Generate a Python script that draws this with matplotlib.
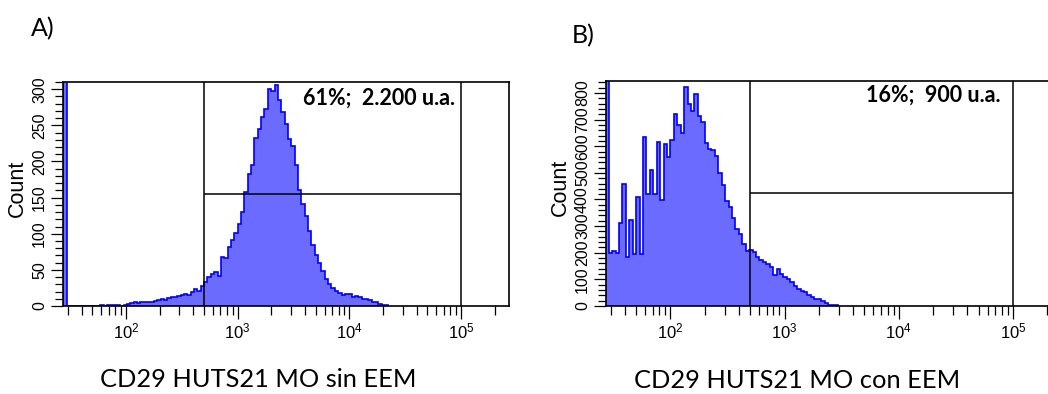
import numpy as np
import matplotlib
matplotlib.use('Agg')
import matplotlib.pyplot as plt
from matplotlib.ticker import FixedLocator, LogLocator, NullFormatter, FuncFormatter, MultipleLocator

plt.rcParams['mathtext.fontset'] = 'custom'
plt.rcParams['mathtext.rm'] = 'Liberation Sans'
plt.rcParams['mathtext.it'] = 'Liberation Sans'
plt.rcParams['font.family'] = ['Liberation Sans', 'DejaVu Sans']

# ---------------- data ----------------
bin_width_decades = 0.03
x_min, x_max = 27.3, 2.69e5

a_first_bin_log10 = 1.44
a_counts = [2000, 0, 0, 0, 0, 0, 0, 0, 0, 0, 0,
            1, 0, 1, 2, 1, 2, 0, 1, 3, 4,
            5, 4, 5, 6, 5, 6, 7, 8, 9, 8,
            11, 12, 12, 14, 15, 16, 15, 20, 24, 21,
            28, 33, 40, 44, 47, 42, 68, 66, 82, 92,
            101, 113, 130, 158, 182, 195, 232, 245, 262, 272,
            301, 298, 306, 285, 268, 252, 231, 222, 195, 160,
            141, 124, 104, 85, 70, 60, 48, 37, 31, 25,
            21, 18, 15, 17, 16, 13, 14, 12, 9, 9,
            8, 6, 5, 3, 2, 1]
a_ymax = 310
a_gate_lo, a_gate_hi, a_gate_count = 500, 1e5, 155
a_yticks_major, a_yticks_minor = 50, 10
a_label = "61%;  2.200 u.a."
a_title = "CD29 HUTS21 MO sin EEM"

b_first_bin_log10 = 1.43
b_counts = [5000, 200, 205, 198, 310, 459, 184, 322, 197, 409, 197,
            634, 422, 509, 422, 615, 397, 609, 559, 622, 722,
            678, 650, 821, 760, 734, 796, 715, 690, 612, 590,
            585, 565, 500, 455, 395, 370, 330, 290, 272, 232,
            205, 209, 203, 184, 172, 165, 157, 147, 118, 138,
            120, 110, 102, 89, 76, 64, 58, 51, 42, 32,
            28, 25, 19, 10, 4, 3, 2]
b_ymax = 845
b_gate_lo, b_gate_hi, b_gate_count = 500, 1e5, 425
b_yticks_major, b_yticks_minor = 100, 20
b_label = "16%;  900 u.a."
b_title = "CD29 HUTS21 MO con EEM"

x_major = [1e2, 1e3, 1e4, 1e5]

FILL = '#6b6bff'
EDGE = '#0000ff'

W, H = 1048, 394
fig = plt.figure(figsize=(W / 100, H / 100), dpi=100)


def px_axes(l, t, r, b):
    return [l / W, 1 - b / H, (r - l) / W, (b - t) / H]


def draw(ax, first_log, counts, ymax, gate_lo, gate_hi, gate_y, ymaj, ymin):
    counts = np.asarray(counts, dtype=float)
    edges = 10 ** (first_log + bin_width_decades * np.arange(len(counts) + 1))
    ax.stairs(counts, edges, fill=True, color=FILL, lw=0)
    ax.stairs(counts, edges, color=EDGE, lw=1.2)
    ax.set_xscale('log')
    ax.set_xlim(x_min, x_max)
    ax.set_ylim(0, ymax)
    ax.axvline(gate_lo, color='black', lw=1.1)
    ax.axvline(gate_hi, color='black', lw=1.1)
    ax.hlines(gate_y, gate_lo, gate_hi, color='black', lw=1.1)
    ax.xaxis.set_major_locator(FixedLocator(x_major))
    ax.xaxis.set_minor_locator(LogLocator(base=10, subs=np.arange(2, 10)))
    ax.xaxis.set_minor_formatter(NullFormatter())
    ax.xaxis.set_major_formatter(FuncFormatter(lambda v, p: r'$10^{%d}$' % round(np.log10(v))))
    ax.yaxis.set_major_locator(MultipleLocator(ymaj))
    ax.yaxis.set_minor_locator(MultipleLocator(ymin))
    ax.tick_params(axis='x', which='major', direction='out', length=9, width=0.9,
                   labelsize=12, pad=2)
    ax.tick_params(axis='x', which='minor', direction='out', length=6.5, width=0.9)
    ax.tick_params(axis='y', which='major', direction='out', length=8.5, width=0.9,
                   labelsize=11.5, pad=3, labelrotation=90)
    ax.tick_params(axis='y', which='minor', direction='out', length=5.5, width=0.9)
    for lab in ax.get_yticklabels():
        lab.set_va('center')
    for s in ax.spines.values():
        s.set_linewidth(1.2)


axA = fig.add_axes(px_axes(63, 82, 509, 306))
draw(axA, a_first_bin_log10, a_counts, a_ymax, a_gate_lo, a_gate_hi, a_gate_count,
     a_yticks_major, a_yticks_minor)
axB = fig.add_axes(px_axes(606, 81, 1062, 306))
draw(axB, b_first_bin_log10, b_counts, b_ymax, b_gate_lo, b_gate_hi, b_gate_count,
     b_yticks_major, b_yticks_minor)


def ftext(x, y, s, **kw):
    fig.text(x / W, 1 - y / H, s, **kw)


ftext(17, 188, "Count", rotation=90, ha='center', va='center', fontsize=15.5)
ftext(560, 187, "Count", rotation=90, ha='center', va='center', fontsize=15.5)

ftext(455, 105, a_label, ha='right', va='baseline', fontsize=15.5,
      fontweight='bold', family=['Lato', 'DejaVu Sans'])
ftext(1000, 102, b_label, ha='right', va='baseline', fontsize=15.5,
      fontweight='bold', family=['Lato', 'DejaVu Sans'])

ftext(31, 36, "A)", ha='left', va='baseline', fontsize=18, family=['Lato', 'DejaVu Sans'])
ftext(572, 43, "B)", ha='left', va='baseline', fontsize=18, family=['Lato', 'DejaVu Sans'])

ftext(258, 387, a_title, ha='center', va='baseline', fontsize=18.3, family=['Lato', 'DejaVu Sans'])
ftext(797, 388, b_title, ha='center', va='baseline', fontsize=18.3, family=['Lato', 'DejaVu Sans'])

fig.savefig('out.png', dpi=100)
